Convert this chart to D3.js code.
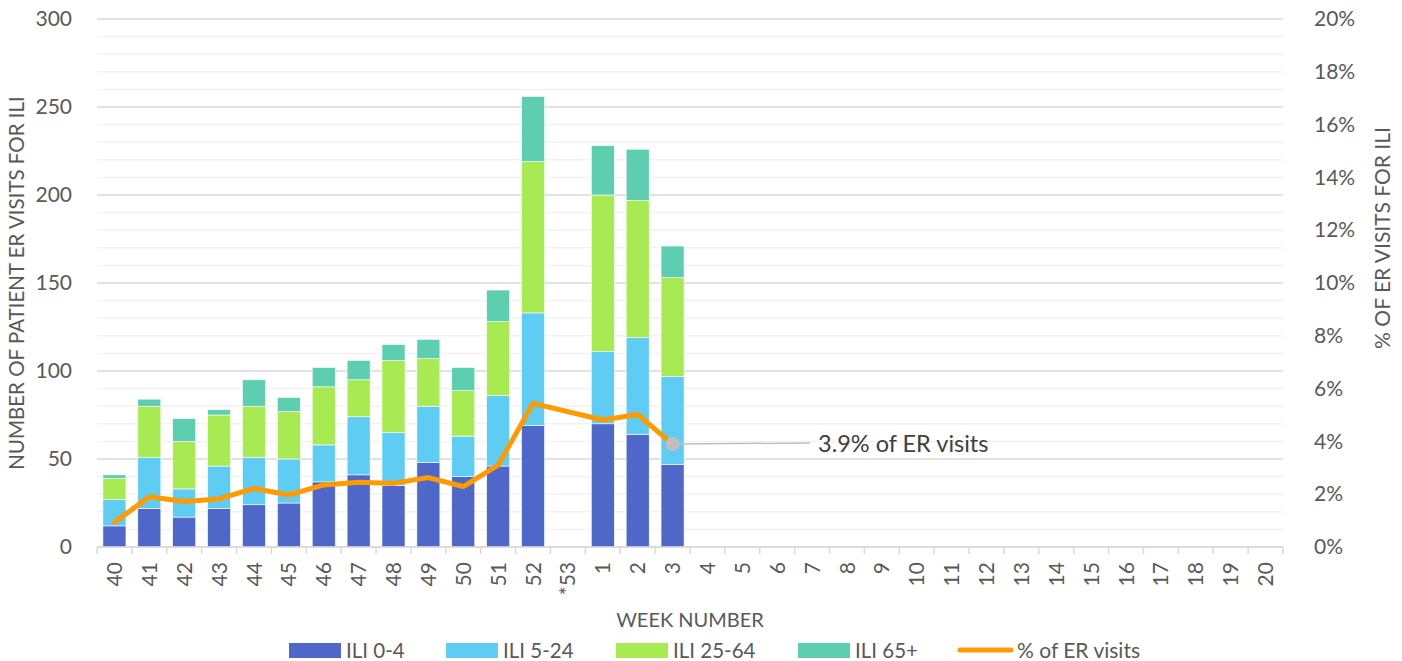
<!DOCTYPE html>
<html>
<head>
<meta charset="utf-8">
<script src="https://cdn.jsdelivr.net/npm/d3@7"></script>
<style>
  body { margin: 0; background: #fff; }
  svg text { font-family: Lato, "Open Sans", sans-serif; fill: #595959; }
</style>
</head>
<body>
<div id="chart"></div>
<script>

// weeks on the x axis (flu season)
const weeks = ["40","41","42","43","44","45","46","47","48","49","50","51","52","*53",
               "1","2","3","4","5","6","7","8","9","10","11","12","13","14","15","16","17","18","19","20"];

// ILI visits by age group (null = no data yet)
const ili0to4   = [12, 22, 17, 22, 24, 25, 37, 41, 35, 48, 40, 46, 69, null, 70, 64, 47];
const ili5to24  = [15, 29, 16, 24, 27, 25, 21, 33, 30, 32, 23, 40, 64, null, 41, 55, 50];
const ili25to64 = [12, 29, 27, 29, 29, 27, 33, 21, 41, 27, 26, 42, 86, null, 89, 78, 56];
const ili65plus = [ 2,  4, 13,  3, 15,  8, 11, 11,  9, 11, 13, 18, 37, null, 28, 29, 18];

// % of ER visits for ILI
const pctER = [0.0094, 0.019, 0.0172, 0.0182, 0.0222, 0.0197, 0.0235, 0.0245, 0.0241, 0.0263,
               0.0229, 0.031, 0.0544, null, 0.0481, 0.0502, 0.039];

const seriesNames = ["ILI 0-4", "ILI 5-24", "ILI 25-64", "ILI 65+"];
const leftTicks = [0, 50, 100, 150, 200, 250, 300];
const rightTicks = [0, 0.02, 0.04, 0.06, 0.08, 0.10, 0.12, 0.14, 0.16, 0.18, 0.20];

const width = 1402;
const height = 661;
const margin = {top: 19, left: 97, right: 119, bottom: 114};

const svg = d3.select("#chart")
    .append("svg")
    .attr("width", width)
    .attr("height", height);

/*
SCALES
*/
const xScale = d3.scaleBand()
    .domain(weeks)
    .range([margin.left, width - margin.right])
    .paddingInner(0.34)
    .paddingOuter(0.17);

const yScale = d3.scaleLinear()
    .domain([0, 300])
    .range([height - margin.bottom, margin.top]);

const pctScale = d3.scaleLinear()
    .domain([0, 0.20])
    .range([height - margin.bottom, margin.top]);

const fillScale = d3.scaleOrdinal()
    .domain(seriesNames)
    .range(["#4E67C8", "#5ECCF3", "#A7EA52", "#5DCEAF"]);

const lineColor = "#FF9A00";

/*
GRIDLINES
*/
const minorTicks = d3.range(0, 301, 10);
svg.append("g")
    .selectAll("line")
    .data(minorTicks)
    .enter()
    .append("line")
        .attr("x1", margin.left)
        .attr("x2", width - margin.right)
        .attr("y1", function(d) { return yScale(d); })
        .attr("y2", function(d) { return yScale(d); })
        .attr("stroke", function(d) { return d % 50 === 0 ? "#d9d9d9" : "#f2f2f2"; })
        .attr("stroke-width", 1.5);

/*
STACKED BARS
*/
const table = weeks.map(function(w, i) {
    return {
        week: w,
        "ILI 0-4": ili0to4[i] || 0,
        "ILI 5-24": ili5to24[i] || 0,
        "ILI 25-64": ili25to64[i] || 0,
        "ILI 65+": ili65plus[i] || 0,
        pct: pctER[i] === undefined ? null : pctER[i]
    };
});

const stacked = d3.stack().keys(seriesNames)(table);

svg.append("g")
    .selectAll("g")
    .data(stacked)
    .enter()
    .append("g")
        .attr("fill", function(d) { return fillScale(d.key); })
    .selectAll("rect")
    .data(function(d) { return d.filter(function(s) { return s[1] > s[0]; }); })
    .enter()
    .append("rect")
        .attr("x", function(d) { return xScale(d.data.week); })
        .attr("y", function(d) { return yScale(d[1]); })
        .attr("width", xScale.bandwidth())
        .attr("height", function(d) { return yScale(d[0]) - yScale(d[1]); })
        .attr("stroke", "white")
        .attr("stroke-width", 0.6);

/*
X AXIS
*/
const x0 = height - margin.bottom;
svg.append("line")
    .attr("x1", margin.left)
    .attr("x2", width - margin.right)
    .attr("y1", x0)
    .attr("y2", x0)
    .attr("stroke", "#d9d9d9")
    .attr("stroke-width", 1.5);

svg.append("g")
    .selectAll("line")
    .data(d3.range(weeks.length + 1))
    .enter()
    .append("line")
        .attr("x1", function(i) { return margin.left + i * xScale.step(); })
        .attr("x2", function(i) { return margin.left + i * xScale.step(); })
        .attr("y1", x0)
        .attr("y2", x0 + 7)
        .attr("stroke", "#d9d9d9")
        .attr("stroke-width", 1.5);

const xAxis = svg.append("g")
    .attr("transform", `translate(0,${x0})`)
    .call(d3.axisBottom(xScale).tickSize(0).tickPadding(0));
xAxis.select(".domain").remove();
xAxis.selectAll("text")
    .attr("transform", "rotate(-90)")
    .attr("text-anchor", "end")
    .attr("x", -15)
    .attr("y", 0)
    .attr("dy", "0.36em")
    .style("font-size", "21px")
    .style("fill", "#595959");

/*
Y AXES
*/
const yAxis = svg.append("g")
    .attr("transform", `translate(${margin.left - 22},0)`)
    .call(d3.axisLeft(yScale).tickValues(leftTicks).tickSize(0));
yAxis.select(".domain").remove();
yAxis.selectAll("text")
    .style("font-size", "21px")
    .style("fill", "#595959");

const pctAxis = svg.append("g")
    .attr("transform", `translate(${width - margin.right + 28},0)`)
    .call(d3.axisRight(pctScale).tickValues(rightTicks).tickSize(0).tickFormat(d3.format(".0%")));
pctAxis.select(".domain").remove();
pctAxis.selectAll("text")
    .style("font-size", "21px")
    .style("fill", "#595959");

/*
LINE
*/
const line = d3.line()
    .x(function(d) { return xScale(d.week) + xScale.bandwidth() / 2; })
    .y(function(d) { return pctScale(d.pct); });

const lineData = table.filter(function(d) { return d.pct !== null; });

svg.append("path")
    .datum(lineData)
    .attr("d", line)
    .attr("fill", "none")
    .attr("stroke", lineColor)
    .attr("stroke-width", 5)
    .attr("stroke-linejoin", "round")
    .attr("stroke-linecap", "round");

/*
ANNOTATION ON LAST POINT
*/
const last = lineData[lineData.length - 1];
const lx = xScale(last.week) + xScale.bandwidth() / 2;
const ly = pctScale(last.pct);

svg.append("line")
    .attr("x1", lx)
    .attr("y1", ly)
    .attr("x2", 810)
    .attr("y2", ly - 1)
    .attr("stroke", "#bfbfbf")
    .attr("stroke-width", 1.5);

svg.append("circle")
    .attr("cx", lx)
    .attr("cy", ly)
    .attr("r", 7)
    .attr("fill", "#bfbfbf");

svg.append("text")
    .attr("x", 818)
    .attr("y", ly + 8)
    .style("font-size", "23.5px")
    .style("fill", "#404040")
    .text(`${d3.format(".1%")(last.pct)} of ER visits`);

/*
AXIS LABELS
*/
svg.append("text")
    .attr("transform", "rotate(-90)")
    .attr("x", -(margin.top + height - margin.bottom) / 2)
    .attr("y", 24)
    .attr("text-anchor", "middle")
    .style("font-size", "20.5px")
    .text("NUMBER OF PATIENT ER VISITS FOR ILI");

svg.append("text")
    .attr("transform", "rotate(-90)")
    .attr("x", -238)
    .attr("y", 1390)
    .attr("text-anchor", "middle")
    .style("font-size", "21px")
    .text("% OF ER VISITS FOR ILI");

svg.append("text")
    .attr("x", (margin.left + width - margin.right) / 2)
    .attr("y", 627)
    .attr("text-anchor", "middle")
    .style("font-size", "20px")
    .text("WEEK NUMBER");

/*
LEGEND
*/
const legendX = [289, 446, 616, 798];
seriesNames.forEach(function(name, i) {
    svg.append("rect")
        .attr("x", legendX[i])
        .attr("y", 643)
        .attr("width", 52)
        .attr("height", 15)
        .attr("fill", fillScale(name));

    svg.append("text")
        .attr("x", legendX[i] + 57)
        .attr("y", 658)
        .style("font-size", "20.5px")
        .text(name);
});

svg.append("line")
    .attr("x1", 960)
    .attr("x2", 1011)
    .attr("y1", 650)
    .attr("y2", 650)
    .attr("stroke", lineColor)
    .attr("stroke-width", 5)
    .attr("stroke-linecap", "round");

svg.append("text")
    .attr("x", 1017)
    .attr("y", 658)
    .style("font-size", "21px")
    .text("% of ER visits");

</script>
</body>
</html>
